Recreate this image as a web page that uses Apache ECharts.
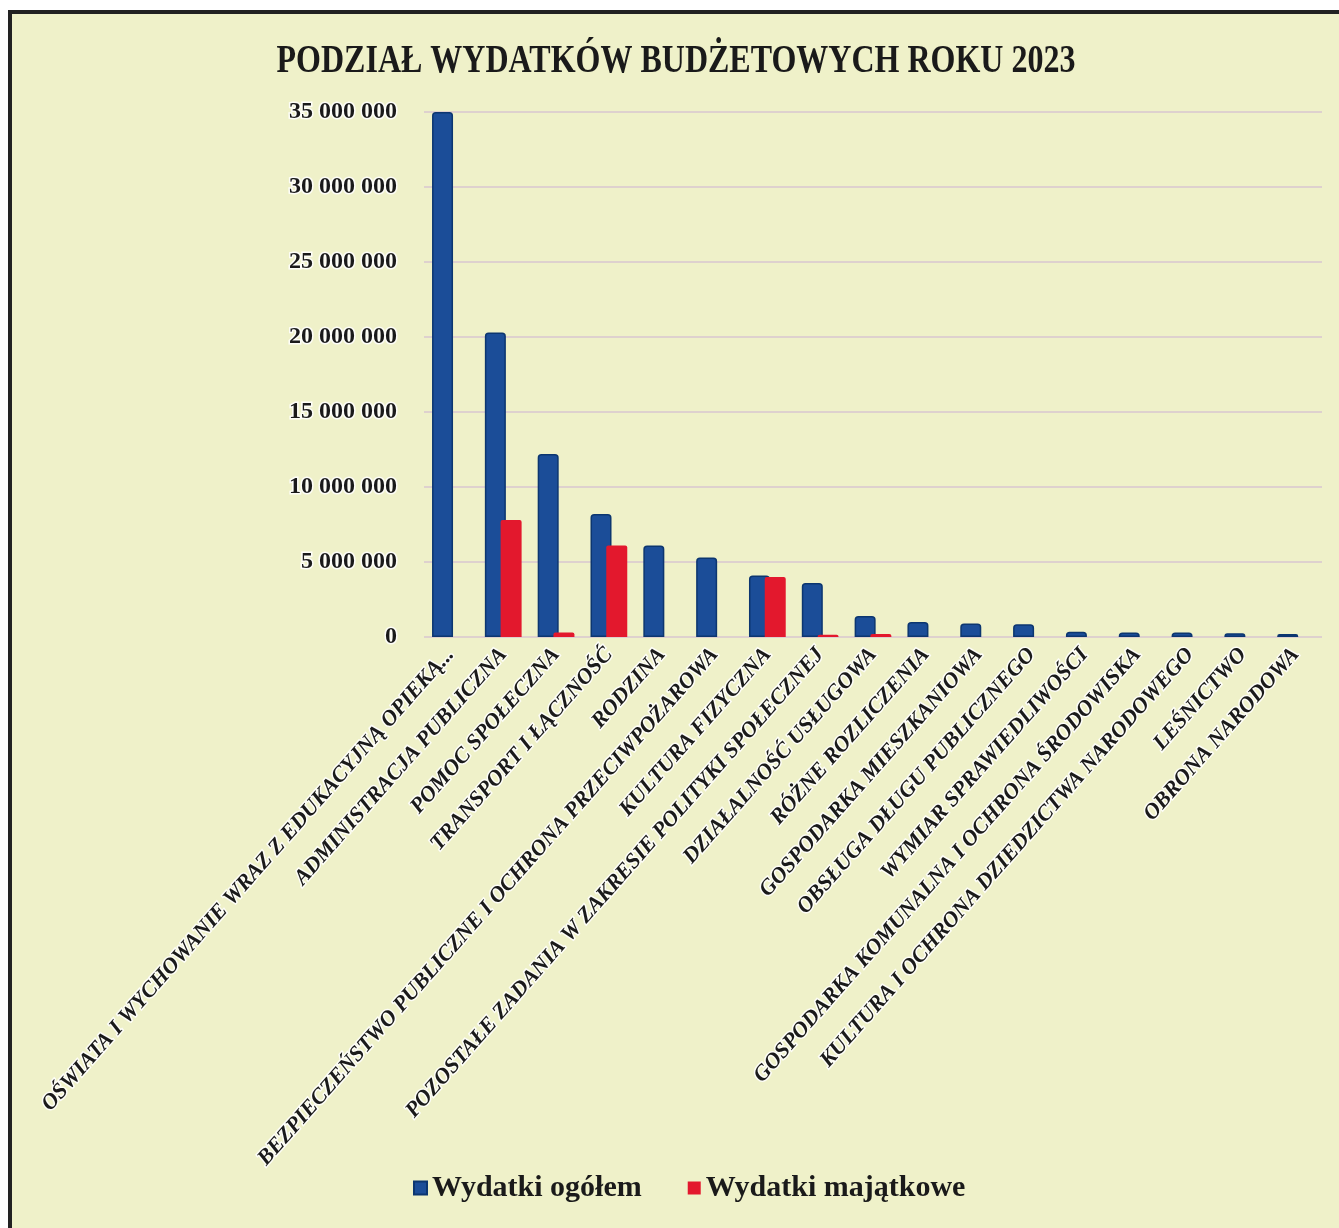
<!DOCTYPE html>
<html>
<head>
<meta charset="utf-8">
<script src="https://cdn.jsdelivr.net/npm/echarts@6/dist/echarts.min.js"></script>
<style>
  html, body { margin: 0; padding: 0; background: #fff; }
  #chart { width: 1339px; height: 1228px; }
</style>
</head>
<body>
<div id="chart"></div>
<script>
const categories = [
  'OŚWIATA I WYCHOWANIE WRAZ Z EDUKACYJNĄ OPIEKĄ...',
  'ADMINISTRACJA PUBLICZNA',
  'POMOC SPOŁECZNA',
  'TRANSPORT I ŁĄCZNOŚĆ',
  'RODZINA',
  'BEZPIECZEŃSTWO PUBLICZNE I OCHRONA PRZECIWPOŻAROWA',
  'KULTURA FIZYCZNA',
  'POZOSTAŁE ZADANIA W ZAKRESIE POLITYKI SPOŁECZNEJ',
  'DZIAŁALNOŚĆ USŁUGOWA',
  'RÓŻNE ROZLICZENIA',
  'GOSPODARKA MIESZKANIOWA',
  'OBSŁUGA DŁUGU PUBLICZNEGO',
  'WYMIAR SPRAWIEDLIWOŚCI',
  'GOSPODARKA KOMUNALNA I OCHRONA ŚRODOWISKA',
  'KULTURA I OCHRONA DZIEDZICTWA NARODOWEGO',
  'LEŚNICTWO',
  'OBRONA NARODOWA'
]

// Wydatki ogółem
const totalSpending = [
  35000000, 20300000, 12200000, 8200000, 6100000, 5300000, 4100000, 3600000,
  1400000, 1000000, 900000, 850000, 350000, 300000, 300000, 250000, 200000
]

// Wydatki majątkowe
const assetSpending = [
  0, 7800000, 300000, 6100000, 0, 0, 4000000, 150000,
  200000, 0, 0, 0, 0, 0, 0, 0, 0
]

const seriesNames = ['Wydatki ogółem', 'Wydatki majątkowe']
const chartTitle = 'PODZIAŁ WYDATKÓW BUDŻETOWYCH ROKU 2023'

const bg = '#eff1c9'
const serif = '"Liberation Serif", "DejaVu Serif", serif'

function formatNumber(v) {
  return String(v).replace(/\B(?=(\d{3})+(?!\d))/g, ' ')
}

const chart = echarts.init(document.getElementById('chart'))

const option = {
  backgroundColor: '#fff',
  animation: false,
  graphic: [
    {
      type: 'rect',
      z: -10,
      shape: { x: 10, y: 12, width: 1340, height: 1230 },
      style: { fill: bg, stroke: '#222', lineWidth: 4 }
    },
    {
      type: 'text',
      x: 676,
      y: 62,
      scaleX: 0.8,
      style: {
        text: chartTitle,
        font: 'bold 40px ' + serif,
        fill: '#1a1a1a',
        textAlign: 'center',
        textVerticalAlign: 'middle'
      }
    }
  ],
  legend: {
    left: 408,
    top: 1168,
    itemWidth: 13,
    itemHeight: 13,
    itemGap: 46,
    icon: 'rect',
    textStyle: {
      fontFamily: serif,
      fontWeight: 'bold',
      fontSize: 30,
      color: '#1a1a1a'
    },
    data: seriesNames
  },
  grid: {
    left: 424,
    right: 17,
    top: 112,
    bottom: 591,
    containLabel: false
  },
  xAxis: {
    type: 'category',
    data: categories,
    axisLine: { show: false },
    axisTick: { show: false },
    axisLabel: {
      interval: 0,
      rotate: 48.5,
      margin: 14,
      fontFamily: serif,
      fontWeight: 'bold',
      fontStyle: 'italic',
      fontSize: 22,
      color: '#1a1a1a',
      textBorderColor: 'rgba(255,255,255,0.85)',
      textBorderWidth: 3
    }
  },
  yAxis: {
    type: 'value',
    min: 0,
    max: 35000000,
    interval: 5000000,
    axisLine: { show: false },
    axisTick: { show: false },
    splitLine: { lineStyle: { color: '#d9c6cf', width: 1.5 } },
    axisLabel: {
      margin: 27,
      fontFamily: serif,
      fontWeight: 'bold',
      fontSize: 24,
      color: '#1a1a1a',
      textBorderColor: 'rgba(255,255,255,0.85)',
      textBorderWidth: 3,
      formatter: formatNumber
    }
  },
  series: [
    {
      name: seriesNames[0],
      type: 'bar',
      data: totalSpending,
      barWidth: 21,
      barGap: '-25%',
      itemStyle: {
        color: '#1b4d98',
        borderColor: '#0c3670',
        borderWidth: 1.5,
        borderRadius: [3, 3, 0, 0]
      }
    },
    {
      name: seriesNames[1],
      type: 'bar',
      data: assetSpending,
      barWidth: 21,
      itemStyle: {
        color: '#e3182d',
        borderWidth: 0,
        borderRadius: [2, 2, 0, 0]
      }
    }
  ]
}

chart.setOption(option)
</script>
</body>
</html>
